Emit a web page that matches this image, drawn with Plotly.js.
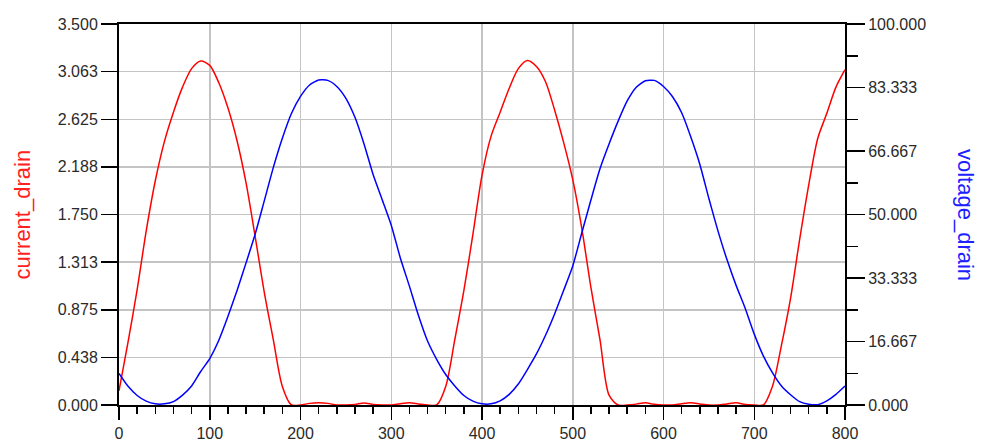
<!DOCTYPE html>
<html>
<head>
<meta charset="utf-8">
<script src="https://cdn.plot.ly/plotly-3.0.1.min.js"></script>
<style>html,body{margin:0;padding:0;background:#fff;}#chart{width:981px;height:443px;}</style>
</head>
<body>
<div id="chart"></div>
<script>
// x positions (time), step 10
const timeValues = [0,10,20,30,40,50,60,70,80,90,100,110,120,130,140,150,160,170,180,190,200,210,220,230,240,250,260,270,280,290,300,310,320,330,340,350,360,370,380,390,400,410,420,430,440,450,460,470,480,490,500,510,520,530,540,550,560,570,580,590,600,610,620,630,640,650,660,670,680,690,700,710,720,730,740,750,760,770,780,790,800];

const currentDrain = [0.13,0.58,1.06,1.60,2.06,2.42,2.69,2.92,3.09,3.16,3.12,2.96,2.73,2.43,2.04,1.55,1.04,0.60,0.17,0.00,0.00,0.015,0.02,0.015,0.00,0.00,0.005,0.018,0.005,0.00,0.00,0.012,0.02,0.01,0.00,0.00,0.17,0.60,1.05,1.57,2.11,2.47,2.69,2.91,3.09,3.165,3.11,2.97,2.71,2.41,2.07,1.62,1.08,0.60,0.09,0.00,0.00,0.008,0.02,0.006,0.00,0.00,0.012,0.02,0.01,0.00,0.00,0.01,0.02,0.005,0.00,0.00,0.17,0.55,0.98,1.52,2.02,2.45,2.68,2.92,3.08];

const voltageDrain = [8.3,4.9,2.5,1.0,0.3,0.3,0.9,2.6,5.0,8.8,12.2,17.0,23.2,30.0,37.3,44.8,53.5,62.3,70.0,76.5,81.0,84.0,85.3,85.2,83.6,80.5,75.5,68.5,60.5,53.9,47.2,38.6,31.2,23.5,16.8,12.0,8.0,5.0,2.5,1.0,0.3,0.3,1.1,2.8,5.5,9.3,13.4,18.3,23.9,30.1,36.5,45.2,53.8,62.0,68.5,74.5,79.8,83.4,85.1,85.2,83.6,80.9,76.7,70.4,63.2,54.2,45.7,38.1,31.4,25.4,18.6,12.9,8.5,5.0,2.7,0.9,0.2,0.1,1.1,2.8,5.0];

const leftTickVals = [0,0.4375,0.875,1.3125,1.75,2.1875,2.625,3.0625,3.5];
const leftTickText = ["0.000","0.438","0.875","1.313","1.750","2.188","2.625","3.063","3.500"];
const rightTickVals = [0,16.6667,33.3333,50,66.6667,83.3333,100];
const rightTickText = ["0.000","16.667","33.333","50.000","66.667","83.333","100.000"];
const rightMinorVals = [8.3333,25,41.6667,58.3333,75,91.6667];
const xTickVals = [0,100,200,300,400,500,600,700,800];
const xTickText = ["0","100","200","300","400","500","600","700","800"];

const tickFont = {family:'"Liberation Sans", Arial, sans-serif', size:16, color:'#2a2a2a'};

const traces = [
  {x: timeValues, y: currentDrain, type:'scatter', mode:'lines', name:'current_drain',
   line:{color:'#ff0000', width:1.5, shape:'spline', smoothing:0.8}, yaxis:'y'},
  {x: timeValues, y: voltageDrain, type:'scatter', mode:'lines', name:'voltage_drain',
   line:{color:'#0000ff', width:1.5, shape:'spline', smoothing:0.6}, yaxis:'y2'}
];

const layout = {
  width:981, height:443,
  margin:{l:119, r:136, t:24, b:38},
  paper_bgcolor:'#ffffff', plot_bgcolor:'#ffffff',
  showlegend:false,
  xaxis:{
    range:[0,800], tickmode:'array', tickvals:xTickVals, ticktext:xTickText,
    ticks:'outside', ticklen:13, tickwidth:1.5, tickcolor:'#000',
    showline:true, linecolor:'#000', linewidth:2, mirror:true,
    showgrid:true, gridcolor:'#c4c4c4', gridwidth:1.5, zeroline:false,
    tickfont:tickFont,
    minor:{dtick:20, tick0:0, ticks:'outside', ticklen:7, tickwidth:1.5, tickcolor:'#000', showgrid:false}
  },
  yaxis:{
    range:[0,3.5], tickmode:'array', tickvals:leftTickVals, ticktext:leftTickText,
    ticks:'outside', ticklen:16, tickwidth:1.5, tickcolor:'#000',
    showline:true, linecolor:'#000', linewidth:2,
    showgrid:true, gridcolor:'#c4c4c4', gridwidth:1.5, zeroline:false,
    tickfont:tickFont
  },
  yaxis2:{
    range:[0,100], overlaying:'y', side:'right', tickmode:'array', tickvals:rightTickVals, ticktext:rightTickText,
    ticks:'outside', ticklen:18, tickwidth:1.5, tickcolor:'#000',
    showline:true, linecolor:'#000', linewidth:2,
    showgrid:false, zeroline:false,
    tickfont:tickFont,
    minor:{tickmode:'array', tickvals:rightMinorVals, ticks:'outside', ticklen:11, tickwidth:1.5, tickcolor:'#000', showgrid:false}
  },
  annotations:[
    {text:'current_drain', xref:'paper', yref:'paper', x:-0.1336, y:0.5, xanchor:'center', yanchor:'middle',
     textangle:-90, showarrow:false, font:{family:'"Liberation Sans", Arial, sans-serif', size:22, color:'#ff2020'}},
    {text:'voltage_drain', xref:'paper', yref:'paper', x:1.166, y:0.5, xanchor:'center', yanchor:'middle',
     textangle:90, showarrow:false, font:{family:'"Liberation Sans", Arial, sans-serif', size:22, color:'#2020ff'}}
  ]
};

Plotly.newPlot('chart', traces, layout, {displayModeBar:false, staticPlot:true});
</script>
</body>
</html>
